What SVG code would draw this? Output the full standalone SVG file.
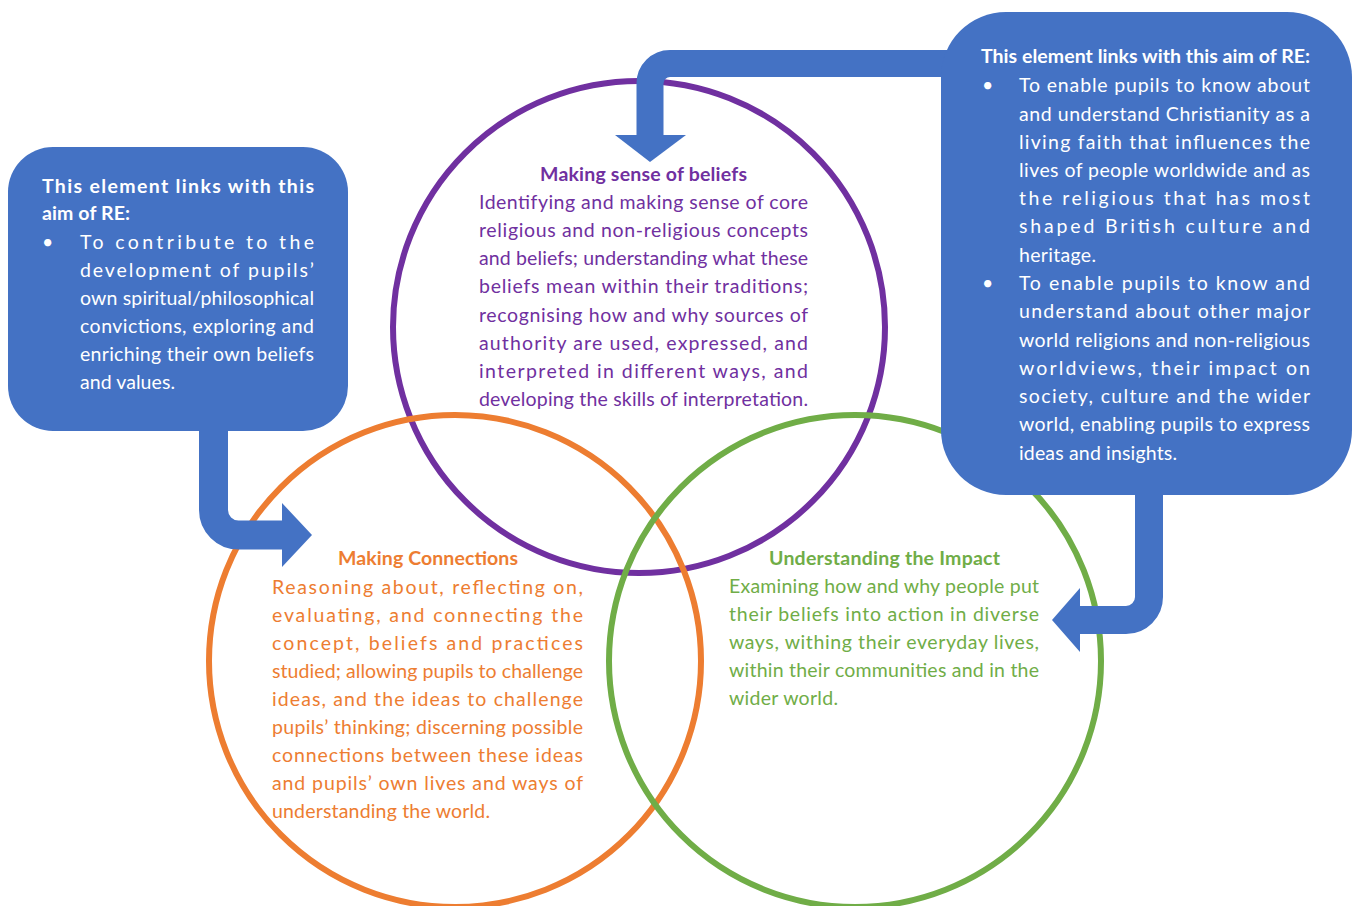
<svg xmlns="http://www.w3.org/2000/svg" width="1357" height="906" viewBox="0 0 1357 906">
<style>
.c{fill:none;stroke-width:6}
.box{fill:#4472C4}
.band{fill:none;stroke:#4472C4}
.head{fill:#4472C4}
text{font-family:Lato,"Open Sans","Liberation Sans",sans-serif;font-size:19.5px}
.t{font-weight:bold}
.w{fill:#FFFFFF}
.p{fill:#7030A0}
.o{fill:#ED7D31}
.g{fill:#70AD47}
</style>
<rect width="1357" height="906" fill="#FFFFFF"/>
<g id="circles">
<circle id="circle-beliefs" class="c" cx="639" cy="327" r="246" stroke="#7030A0"/>
<circle id="circle-connections" class="c" cx="455" cy="661" r="246" stroke="#ED7D31"/>
<circle id="circle-impact" class="c" cx="855" cy="661" r="246" stroke="#70AD47"/>
</g>
<g id="connectors">
<path class="band" stroke-width="27" d="M 950 63.5 H 670 A 20 20 0 0 0 650 83.5 V 137"/>
<polygon class="head" points="615,135 686,135 650,162"/>
<path class="band" stroke-width="29" d="M 213.5 425 V 510 A 25 25 0 0 0 238.5 535 H 285"/>
<polygon class="head" points="282,503 312,535 282,567"/>
<path class="band" stroke-width="28" d="M 1149 490 V 597 A 23 23 0 0 1 1126 620 H 1077"/>
<polygon class="head" points="1080,588 1052,620 1080,652"/>
</g>
<g id="box-left">
<rect class="box" x="8" y="147" width="340" height="284" rx="45" ry="45"/>
<text class="w t" x="42" y="193" textLength="272" lengthAdjust="spacing">This element links with this</text>
<text class="w t" x="42" y="220" textLength="88" lengthAdjust="spacing">aim of RE:</text>
<text class="w" x="42" y="249">•</text>
<text class="w" x="80" y="249" textLength="234" lengthAdjust="spacing">To contribute to the</text>
<text class="w" x="80" y="277" textLength="234" lengthAdjust="spacing">development of pupils’</text>
<text class="w" x="80" y="305" textLength="234" lengthAdjust="spacing">own spiritual/philosophical</text>
<text class="w" x="80" y="333" textLength="234" lengthAdjust="spacing">convictions, exploring and</text>
<text class="w" x="80" y="361" textLength="234" lengthAdjust="spacing">enriching their own beliefs</text>
<text class="w" x="80" y="389" textLength="95" lengthAdjust="spacing">and values.</text>
</g>
<g id="box-right">
<rect class="box" x="941" y="12" width="411" height="483" rx="65" ry="65"/>
<text class="w t" x="981" y="63" textLength="329" lengthAdjust="spacing">This element links with this aim of RE:</text>
<text class="w" x="982" y="92">•</text>
<text class="w" x="1019" y="92" textLength="291" lengthAdjust="spacing">To enable pupils to know about</text>
<text class="w" x="1019" y="121" textLength="291" lengthAdjust="spacing">and understand Christianity as a</text>
<text class="w" x="1019" y="149" textLength="291" lengthAdjust="spacing">living faith that influences the</text>
<text class="w" x="1019" y="177" textLength="291" lengthAdjust="spacing">lives of people worldwide and as</text>
<text class="w" x="1019" y="205" textLength="291" lengthAdjust="spacing">the religious that has most</text>
<text class="w" x="1019" y="233" textLength="291" lengthAdjust="spacing">shaped British culture and</text>
<text class="w" x="1019" y="262" textLength="77" lengthAdjust="spacing">heritage.</text>
<text class="w" x="982" y="290">•</text>
<text class="w" x="1019" y="290" textLength="291" lengthAdjust="spacing">To enable pupils to know and</text>
<text class="w" x="1019" y="318" textLength="291" lengthAdjust="spacing">understand about other major</text>
<text class="w" x="1019" y="347" textLength="291" lengthAdjust="spacing">world religions and non-religious</text>
<text class="w" x="1019" y="375" textLength="291" lengthAdjust="spacing">worldviews, their impact on</text>
<text class="w" x="1019" y="403" textLength="291" lengthAdjust="spacing">society, culture and the wider</text>
<text class="w" x="1019" y="431" textLength="291" lengthAdjust="spacing">world, enabling pupils to express</text>
<text class="w" x="1019" y="460" textLength="158" lengthAdjust="spacing">ideas and insights.</text>
</g>
<g id="node-beliefs">
<text class="p t" x="540" y="181" textLength="207" lengthAdjust="spacing">Making sense of beliefs</text>
<text class="p" x="479" y="209" textLength="329" lengthAdjust="spacing">Identifying and making sense of core</text>
<text class="p" x="479" y="237" textLength="329" lengthAdjust="spacing">religious and non-religious concepts</text>
<text class="p" x="479" y="265" textLength="329" lengthAdjust="spacing">and beliefs; understanding what these</text>
<text class="p" x="479" y="293" textLength="329" lengthAdjust="spacing">beliefs mean within their traditions;</text>
<text class="p" x="479" y="322" textLength="329" lengthAdjust="spacing">recognising how and why sources of</text>
<text class="p" x="479" y="350" textLength="329" lengthAdjust="spacing">authority are used, expressed, and</text>
<text class="p" x="479" y="378" textLength="329" lengthAdjust="spacing">interpreted in different ways, and</text>
<text class="p" x="479" y="406" textLength="329" lengthAdjust="spacing">developing the skills of interpretation.</text>
</g>
<g id="node-connections">
<text class="o t" x="338" y="565" textLength="180" lengthAdjust="spacing">Making Connections</text>
<text class="o" x="272" y="594" textLength="311" lengthAdjust="spacing">Reasoning about, reflecting on,</text>
<text class="o" x="272" y="622" textLength="311" lengthAdjust="spacing">evaluating, and connecting the</text>
<text class="o" x="272" y="650" textLength="311" lengthAdjust="spacing">concept, beliefs and practices</text>
<text class="o" x="272" y="678" textLength="311" lengthAdjust="spacing">studied; allowing pupils to challenge</text>
<text class="o" x="272" y="706" textLength="311" lengthAdjust="spacing">ideas, and the ideas to challenge</text>
<text class="o" x="272" y="734" textLength="311" lengthAdjust="spacing">pupils’ thinking; discerning possible</text>
<text class="o" x="272" y="762" textLength="311" lengthAdjust="spacing">connections between these ideas</text>
<text class="o" x="272" y="790" textLength="311" lengthAdjust="spacing">and pupils’ own lives and ways of</text>
<text class="o" x="272" y="818" textLength="218" lengthAdjust="spacing">understanding the world.</text>
</g>
<g id="node-impact">
<text class="g t" x="769" y="565" textLength="231" lengthAdjust="spacing">Understanding the Impact</text>
<text class="g" x="729" y="593" textLength="310" lengthAdjust="spacing">Examining how and why people put</text>
<text class="g" x="729" y="621" textLength="310" lengthAdjust="spacing">their beliefs into action in diverse</text>
<text class="g" x="729" y="649" textLength="310" lengthAdjust="spacing">ways, withing their everyday lives,</text>
<text class="g" x="729" y="677" textLength="310" lengthAdjust="spacing">within their communities and in the</text>
<text class="g" x="729" y="705" textLength="109" lengthAdjust="spacing">wider world.</text>
</g>
</svg>
